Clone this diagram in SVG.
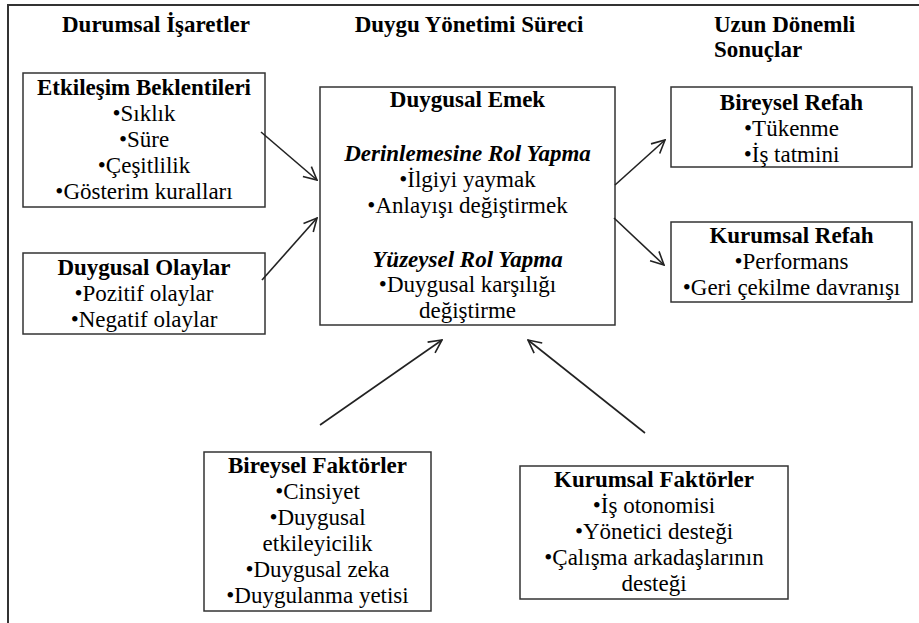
<svg xmlns="http://www.w3.org/2000/svg" width="919" height="623" viewBox="0 0 919 623">
<defs>
<marker id="ah" markerUnits="userSpaceOnUse" markerWidth="16" markerHeight="16" viewBox="0 0 16 16" refX="15" refY="8" orient="auto">
<path d="M2,1.5 L15,8 L2,14.5" fill="none" stroke="#222" stroke-width="1.6"/>
</marker>
</defs>
<rect width="919" height="623" fill="#fff"/>
<path d="M8,623 V5 H919" fill="none" stroke="#333" stroke-width="2"/>
<g id="headers">
<text font-family="Liberation Serif, serif" font-size="23" font-weight="bold" text-anchor="middle" x="156" y="32">Durumsal İşaretler</text>
<text font-family="Liberation Serif, serif" font-size="23" font-weight="bold" text-anchor="middle" x="469" y="32">Duygu Yönetimi Süreci</text>
<text font-family="Liberation Serif, serif" font-size="23" font-weight="bold" x="714" y="32">Uzun Dönemli</text>
<text font-family="Liberation Serif, serif" font-size="23" font-weight="bold" x="714" y="57">Sonuçlar</text>
</g>
<g id="etkilesim">
<rect x="23" y="73" width="242" height="134" fill="#fff" stroke="#333" stroke-width="1.5"/>
<text font-family="Liberation Serif, serif" font-size="23" font-weight="bold" text-anchor="middle" x="144" y="95">Etkileşim Beklentileri</text>
<text font-family="Liberation Serif, serif" font-size="23" text-anchor="middle" x="144" y="121">•Sıklık</text>
<text font-family="Liberation Serif, serif" font-size="23" text-anchor="middle" x="144" y="147">•Süre</text>
<text font-family="Liberation Serif, serif" font-size="23" text-anchor="middle" x="144" y="173">•Çeşitlilik</text>
<text font-family="Liberation Serif, serif" font-size="23" text-anchor="middle" x="144" y="199">•Gösterim kuralları</text>
</g>
<g id="olaylar">
<rect x="23" y="253" width="242" height="81" fill="#fff" stroke="#333" stroke-width="1.5"/>
<text font-family="Liberation Serif, serif" font-size="23" font-weight="bold" text-anchor="middle" x="144" y="275">Duygusal Olaylar</text>
<text font-family="Liberation Serif, serif" font-size="23" text-anchor="middle" x="144" y="301">•Pozitif olaylar</text>
<text font-family="Liberation Serif, serif" font-size="23" text-anchor="middle" x="144" y="327">•Negatif olaylar</text>
</g>
<g id="emek">
<rect x="320" y="87" width="295" height="238" fill="#fff" stroke="#333" stroke-width="1.5"/>
<text font-family="Liberation Serif, serif" font-size="23" font-weight="bold" text-anchor="middle" x="467.5" y="107">Duygusal Emek</text>
<text font-family="Liberation Serif, serif" font-size="23" font-weight="bold" font-style="italic" text-anchor="middle" x="467.5" y="161">Derinlemesine Rol Yapma</text>
<text font-family="Liberation Serif, serif" font-size="23" text-anchor="middle" x="467.5" y="187">•İlgiyi yaymak</text>
<text font-family="Liberation Serif, serif" font-size="23" text-anchor="middle" x="467.5" y="213">•Anlayışı değiştirmek</text>
<text font-family="Liberation Serif, serif" font-size="23" font-weight="bold" font-style="italic" text-anchor="middle" x="467.5" y="267">Yüzeysel Rol Yapma</text>
<text font-family="Liberation Serif, serif" font-size="23" text-anchor="middle" x="467.5" y="292">•Duygusal karşılığı</text>
<text font-family="Liberation Serif, serif" font-size="23" text-anchor="middle" x="467.5" y="318">değiştirme</text>
</g>
<g id="bireysel-refah">
<rect x="671" y="87" width="241" height="80" fill="#fff" stroke="#333" stroke-width="1.5"/>
<text font-family="Liberation Serif, serif" font-size="23" font-weight="bold" text-anchor="middle" x="791.5" y="110">Bireysel Refah</text>
<text font-family="Liberation Serif, serif" font-size="23" text-anchor="middle" x="791.5" y="136">•Tükenme</text>
<text font-family="Liberation Serif, serif" font-size="23" text-anchor="middle" x="791.5" y="162">•İş tatmini</text>
</g>
<g id="kurumsal-refah">
<rect x="671" y="222" width="241" height="80" fill="#fff" stroke="#333" stroke-width="1.5"/>
<text font-family="Liberation Serif, serif" font-size="23" font-weight="bold" text-anchor="middle" x="791.5" y="243">Kurumsal Refah</text>
<text font-family="Liberation Serif, serif" font-size="23" text-anchor="middle" x="791.5" y="269">•Performans</text>
<text font-family="Liberation Serif, serif" font-size="23" text-anchor="middle" x="791.5" y="295">•Geri çekilme davranışı</text>
</g>
<g id="bireysel-faktorler">
<rect x="204" y="452" width="227" height="159" fill="#fff" stroke="#333" stroke-width="1.5"/>
<text font-family="Liberation Serif, serif" font-size="23" font-weight="bold" text-anchor="middle" x="317.5" y="473">Bireysel Faktörler</text>
<text font-family="Liberation Serif, serif" font-size="23" text-anchor="middle" x="317.5" y="499">•Cinsiyet</text>
<text font-family="Liberation Serif, serif" font-size="23" text-anchor="middle" x="317.5" y="525">•Duygusal</text>
<text font-family="Liberation Serif, serif" font-size="23" text-anchor="middle" x="317.5" y="551">etkileyicilik</text>
<text font-family="Liberation Serif, serif" font-size="23" text-anchor="middle" x="317.5" y="577">•Duygusal zeka</text>
<text font-family="Liberation Serif, serif" font-size="23" text-anchor="middle" x="317.5" y="603">•Duygulanma yetisi</text>
</g>
<g id="kurumsal-faktorler">
<rect x="520" y="466" width="268" height="133" fill="#fff" stroke="#333" stroke-width="1.5"/>
<text font-family="Liberation Serif, serif" font-size="23" font-weight="bold" text-anchor="middle" x="654" y="487">Kurumsal Faktörler</text>
<text font-family="Liberation Serif, serif" font-size="23" text-anchor="middle" x="654" y="513">•İş otonomisi</text>
<text font-family="Liberation Serif, serif" font-size="23" text-anchor="middle" x="654" y="539">•Yönetici desteği</text>
<text font-family="Liberation Serif, serif" font-size="23" text-anchor="middle" x="654" y="565">•Çalışma arkadaşlarının</text>
<text font-family="Liberation Serif, serif" font-size="23" text-anchor="middle" x="654" y="591">desteği</text>
</g>
<g id="connectors" stroke="#222" stroke-width="1.6" marker-end="url(#ah)">
<line x1="261" y1="132" x2="317" y2="180"/>
<line x1="262" y1="280" x2="317" y2="218"/>
<line x1="615" y1="185" x2="665" y2="140"/>
<line x1="614" y1="218" x2="664" y2="265"/>
<line x1="320" y1="425" x2="442" y2="340"/>
<line x1="645" y1="433" x2="528" y2="340"/>
</g>
</svg>
